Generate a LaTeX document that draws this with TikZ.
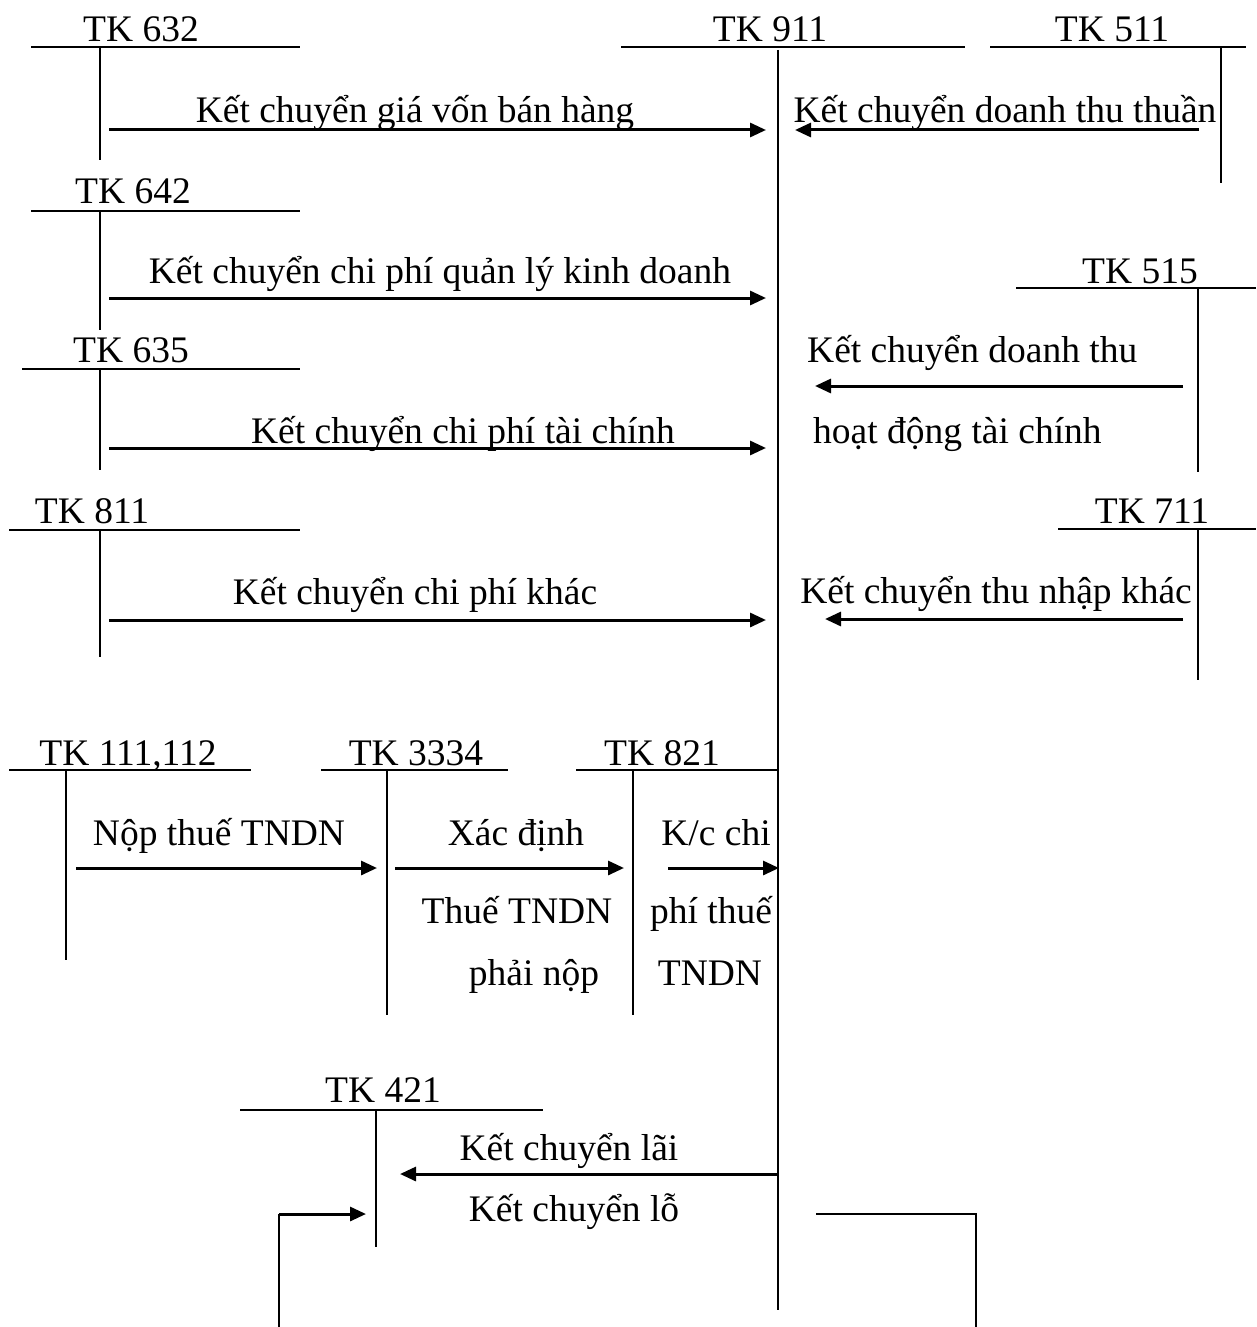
\documentclass[tikz,border=0pt]{standalone}
\usepackage{fontspec}
\setmainfont{Liberation Serif}
\usetikzlibrary{arrows.meta}
\begin{document}
\begin{tikzpicture}[x=1pt,y=-1pt,
  tline/.style={line width=2pt},
  arr/.style={line width=3pt,-{Triangle[length=16pt,width=14pt]}},
  lbl/.style={anchor=base,inner sep=0pt,font=\fontsize{37.5}{42}\selectfont},
  lbll/.style={lbl,anchor=base west},
  lblr/.style={lbl,anchor=base east}]
\useasboundingbox (0,0) rectangle (1256,1327);
% ---------- TK 632
\node[lbl] (l632) at (141,42) {TK 632};
\draw[tline] (31,47) -- (300,47);
\coordinate (t632) at (100,47); \coordinate (b632) at (100,160);
\draw[tline] (t632) -- (b632);
% ---------- TK 911
\node[lbl] (l911) at (770,42) {TK 911};
\draw[tline] (621,47) -- (965,47);
\coordinate (t911) at (778,50); \coordinate (b911) at (778,1310);
\draw[tline] (t911) -- (b911);
% ---------- TK 511
\node[lbl] (l511) at (1112,42) {TK 511};
\draw[tline] (990,47) -- (1246,47);
\coordinate (t511) at (1221,47); \coordinate (b511) at (1221,183);
\draw[tline] (t511) -- (b511);
% arrows row 1
\coordinate (a1s) at (109,130); \coordinate (a1e) at (766,130);
\draw[arr] (a1s) -- (a1e);
\node[lbl] (txa1) at (415,122) {Kết chuyển giá vốn bán hàng};
\coordinate (a2s) at (1199,130); \coordinate (a2e) at (795,130);
\draw[arr] (a2s) -- (a2e);
\node[lbl] (txa2) at (1005,122) {Kết chuyển doanh thu thuần};
% ---------- TK 642
\node[lbl] (l642) at (133,203) {TK 642};
\draw[tline] (31,211) -- (300,211);
\coordinate (t642) at (100,211); \coordinate (b642) at (100,330);
\draw[tline] (t642) -- (b642);
\coordinate (a3s) at (109,298); \coordinate (a3e) at (766,298);
\draw[arr] (a3s) -- (a3e);
\node[lbl] (txa3) at (440,283) {Kết chuyển chi phí quản lý kinh doanh};
% ---------- TK 515
\node[lbl] (l515) at (1140,283) {TK 515};
\draw[tline] (1016,288) -- (1256,288);
\coordinate (t515) at (1198,288); \coordinate (b515) at (1198,472);
\draw[tline] (t515) -- (b515);
\coordinate (a4s) at (1183,386); \coordinate (a4e) at (815,386);
\draw[arr] (a4s) -- (a4e);
\node[lbll] (txa4) at (807,362) {Kết chuyển doanh thu};
\node[lbll] (txa4b) at (813,443) {hoạt động tài chính};
% ---------- TK 635
\node[lbl] (l635) at (131,362) {TK 635};
\draw[tline] (22,369) -- (300,369);
\coordinate (t635) at (100,369); \coordinate (b635) at (100,470);
\draw[tline] (t635) -- (b635);
\coordinate (a5s) at (109,448); \coordinate (a5e) at (766,448);
\draw[arr] (a5s) -- (a5e);
\node[lbl] (txa5) at (463,443) {Kết chuyển chi phí tài chính};
% ---------- TK 811
\node[lbl] (l811) at (92,523) {TK 811};
\draw[tline] (9,530) -- (300,530);
\coordinate (t811) at (100,530); \coordinate (b811) at (100,657);
\draw[tline] (t811) -- (b811);
\coordinate (a6s) at (109,620); \coordinate (a6e) at (766,620);
\draw[arr] (a6s) -- (a6e);
\node[lbl] (txa6) at (415,604) {Kết chuyển chi phí khác};
% ---------- TK 711
\node[lbl] (l711) at (1152,523) {TK 711};
\draw[tline] (1058,529) -- (1256,529);
\coordinate (t711) at (1198,529); \coordinate (b711) at (1198,680);
\draw[tline] (t711) -- (b711);
\coordinate (a7s) at (1183,619); \coordinate (a7e) at (825,619);
\draw[arr] (a7s) -- (a7e);
\node[lblr] (txa7) at (1192,603) {Kết chuyển thu nhập khác};
% ---------- TK 111,112
\node[lbl] (l111) at (128,765) {TK 111,112};
\draw[tline] (9,770) -- (251,770);
\coordinate (t111) at (66,770); \coordinate (b111) at (66,960);
\draw[tline] (t111) -- (b111);
% ---------- TK 3334
\node[lbl] (l3334) at (416,765) {TK 3334};
\draw[tline] (321,770) -- (508,770);
\coordinate (t3334) at (387,770); \coordinate (b3334) at (387,1015);
\draw[tline] (t3334) -- (b3334);
% ---------- TK 821
\node[lbl] (l821) at (662,765) {TK 821};
\draw[tline] (576,770) -- (778,770);
\coordinate (t821) at (633,770); \coordinate (b821) at (633,1015);
\draw[tline] (t821) -- (b821);
% arrows tax
\coordinate (b1s) at (76,868); \coordinate (b1e) at (377,868);
\draw[arr] (b1s) -- (b1e);
\node[lbl] (txb1) at (219,845) {Nộp thuế TNDN};
\coordinate (b2s) at (395,868); \coordinate (b2e) at (624,868);
\draw[arr] (b2s) -- (b2e);
\node[lbl] (txb2) at (516,845) {Xác định};
\node[lbl] (txb2b) at (517,923) {Thuế TNDN};
\node[lbl] (txb2c) at (534,985) {phải nộp};
\coordinate (b3s) at (668,868); \coordinate (b3e) at (779,868);
\draw[arr] (b3s) -- (b3e);
\node[lbl] (txb3) at (716,845) {K/c chi};
\node[lbl] (txb3b) at (711,923) {phí thuế};
\node[lbl] (txb3c) at (710,985) {TNDN};
% ---------- TK 421
\node[lbl] (l421) at (383,1102) {TK 421};
\draw[tline] (240,1110) -- (543,1110);
\coordinate (t421) at (376,1110); \coordinate (b421) at (376,1247);
\draw[tline] (t421) -- (b421);
\coordinate (c1s) at (778,1174); \coordinate (c1e) at (400,1174);
\draw[arr] (c1s) -- (c1e);
\node[lbl] (txc1) at (569,1160) {Kết chuyển lãi};
\node[lbl] (txc2) at (574,1221) {Kết chuyển lỗ};
% loss path
\coordinate (r1) at (816,1214); \coordinate (r2) at (976,1214); \coordinate (r3) at (976,1327);
\draw[tline] (r1) -- (r2) -- (r3);
\coordinate (q1) at (279,1327); \coordinate (q2) at (279,1214); \coordinate (q3) at (366,1214);
\draw[tline] (q1) -- (q2);
\draw[arr] (q2) -- (q3);
\end{tikzpicture}
\end{document}
